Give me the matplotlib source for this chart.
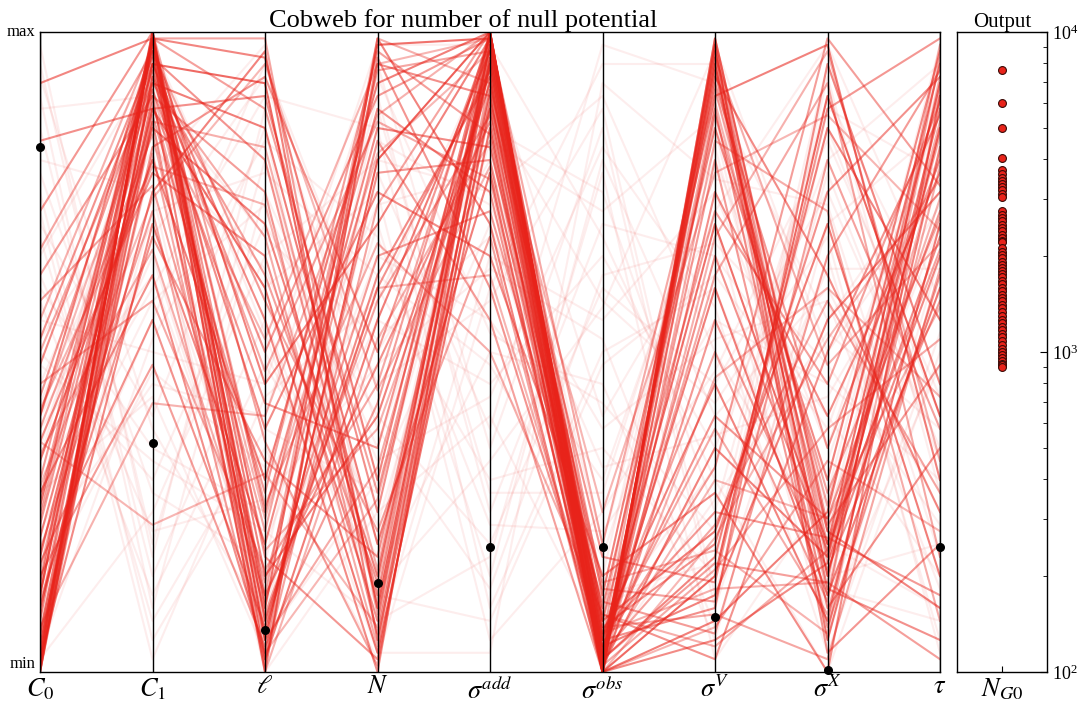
import numpy as np
import matplotlib
matplotlib.use("Agg")
import matplotlib.pyplot as plt

# ---------------- data ----------------
param_labels = [r"$C_0$", r"$C_1$", r"$\ell$", r"$N$", r"$\sigma^{add}$",
                r"$\sigma^{obs}$", r"$\sigma^{V}$", r"$\sigma^{X}$", r"$\tau$"]

# highlighted samples (normalised 0=min, 1=max)
c0 = [0.02, 0.12, 0.00, 0.18, 0.26, 0.06, 0.33, 0.01, 0.10, 0.40,
      0.04, 0.21, 0.92, 0.02, 0.14, 0.48, 0.00, 0.28, 0.83, 0.08,
      0.36, 0.03, 0.17, 0.52, 0.01, 0.23, 0.72, 0.05, 0.30, 0.11,
      0.43, 0.02, 0.62, 0.15, 0.00, 0.27, 0.58, 0.04, 0.38, 0.09,
      0.19, 0.66, 0.01, 0.13, 0.45, 0.24, 0.06, 0.50, 0.02, 0.34,
      0.16, 0.55, 0.07, 0.00, 0.41, 0.25, 0.03, 0.36, 0.12, 0.29,
      0.40]
c1 = [0.99, 0.95, 1.00, 0.88, 0.97, 0.92, 0.80, 0.99, 0.75, 0.98,
      0.90, 0.85, 0.99, 0.70, 1.00, 0.95, 0.93, 0.62, 0.88, 0.98,
      0.78, 0.99, 0.55, 0.96, 0.86, 0.91, 1.00, 0.82, 0.97, 0.68,
      0.94, 0.99, 0.90, 0.48, 0.87, 0.99, 0.76, 0.93, 0.84, 1.00,
      0.72, 0.97, 0.89, 0.99, 0.58, 0.95, 0.81, 0.92, 0.99, 0.66,
      0.86, 0.98, 0.42, 0.94, 0.79, 0.99, 0.88, 0.23, 0.96, 0.74,
      0.91]
ell = [0.05, 0.92, 0.10, 0.60, 0.02, 0.85, 0.30, 0.15, 0.97, 0.45,
       0.00, 0.70, 0.96, 0.20, 0.08, 0.55, 0.38, 0.03, 0.90, 0.12,
       0.65, 0.25, 0.07, 0.80, 0.01, 0.42, 0.18, 0.93, 0.06, 0.33,
       0.50, 0.11, 0.75, 0.04, 0.28, 0.88, 0.14, 0.62, 0.09, 0.36,
       0.02, 0.58, 0.22, 0.99, 0.16, 0.47, 0.05, 0.68, 0.26, 0.12,
       0.82, 0.00, 0.40, 0.19, 0.73, 0.08, 0.52, 0.31, 0.03, 0.95,
       0.24]
n_par = [0.80, 0.10, 0.98, 0.03, 0.55, 0.20, 0.92, 0.40, 0.05, 0.70,
         0.99, 0.15, 0.30, 0.85, 0.62, 0.00, 0.75, 0.95, 0.25, 0.48,
         0.08, 0.88, 0.60, 0.12, 0.96, 0.35, 0.02, 0.50, 0.78, 0.18,
         0.90, 0.65, 0.06, 0.42, 0.97, 0.28, 0.83, 0.14, 0.58, 0.01,
         0.73, 0.22, 0.94, 0.09, 0.45, 0.86, 0.32, 0.04, 0.67, 0.99,
         0.16, 0.52, 0.87, 0.38, 0.11, 0.60, 0.95, 0.07, 0.27, 0.44,
         0.81]
s_add = [1.00, 0.95, 0.99, 0.85, 0.97, 0.78, 1.00, 0.92, 0.88, 0.99,
         0.70, 0.96, 1.00, 0.82, 0.93, 0.99, 0.65, 0.90, 1.00, 0.86,
         0.98, 0.75, 0.94, 1.00, 0.60, 0.97, 0.89, 0.99, 0.80, 0.95,
         0.99, 0.72, 0.91, 1.00, 0.84, 0.96, 0.55, 0.98, 0.87, 0.93,
         1.00, 0.68, 0.97, 0.90, 0.99, 0.77, 0.94, 1.00, 0.50, 0.92,
         0.98, 0.83, 1.00, 0.88, 0.96, 0.62, 0.99, 0.91, 0.95, 0.79,
         0.97]
s_obs = [0.02, 0.00, 0.05, 0.01, 0.08, 0.00, 0.03, 0.12, 0.01, 0.04,
         0.00, 0.06, 0.02, 0.10, 0.00, 0.03, 0.15, 0.01, 0.05, 0.00,
         0.07, 0.02, 0.00, 0.09, 0.04, 0.01, 0.18, 0.00, 0.03, 0.06,
         0.01, 0.11, 0.00, 0.04, 0.02, 0.08, 0.00, 0.13, 0.05, 0.01,
         0.03, 0.00, 0.07, 0.02, 0.20, 0.01, 0.04, 0.00, 0.09, 0.02,
         0.06, 0.00, 0.03, 0.14, 0.01, 0.05, 0.00, 0.25, 0.02, 0.08,
         0.00]
s_v = [0.95, 0.15, 0.70, 0.98, 0.22, 0.08, 0.60, 0.90, 0.35, 0.12,
       0.99, 0.45, 0.18, 0.85, 0.05, 0.93, 0.28, 0.75, 0.10, 0.97,
       0.20, 0.65, 0.88, 0.02, 0.40, 0.96, 0.14, 0.55, 0.92, 0.25,
       0.80, 0.06, 0.99, 0.32, 0.17, 0.72, 0.94, 0.11, 0.50, 0.87,
       0.23, 0.98, 0.09, 0.62, 0.91, 0.16, 0.38, 0.83, 0.04, 0.96,
       0.13, 0.68, 0.89, 0.19, 0.46, 0.97, 0.07, 0.78, 0.30, 0.94,
       0.21]
s_x = [0.15, 0.90, 0.20, 0.05, 0.70, 0.25, 0.12, 0.98, 0.18, 0.55,
       0.22, 0.08, 0.85, 0.30, 0.17, 0.62, 0.00, 0.40, 0.95, 0.13,
       0.75, 0.19, 0.10, 0.50, 0.24, 0.03, 0.88, 0.16, 0.35, 0.21,
       0.07, 0.65, 0.23, 0.99, 0.14, 0.45, 0.20, 0.80, 0.11, 0.28,
       0.58, 0.18, 0.02, 0.92, 0.26, 0.38, 0.09, 0.72, 0.19, 0.48,
       0.14, 0.97, 0.22, 0.06, 0.60, 0.17, 0.33, 0.87, 0.24, 0.12,
       0.52]
tau = [0.85, 0.40, 0.92, 0.70, 0.15, 0.95, 0.60, 0.30, 0.88, 0.75,
       0.10, 0.82, 0.55, 0.97, 0.65, 0.25, 0.90, 0.78, 0.45, 0.05,
       0.93, 0.68, 0.35, 0.87, 0.72, 0.20, 0.99, 0.58, 0.80, 0.12,
       0.62, 0.94, 0.48, 0.76, 0.02, 0.89, 0.66, 0.38, 0.96, 0.71,
       0.28, 0.84, 0.63, 0.18, 0.91, 0.52, 0.79, 0.08, 0.86, 0.67,
       0.98, 0.33, 0.74, 0.90, 0.43, 0.81, 0.22, 0.69, 0.57, 0.93,
       0.77]
n_g0 = [7600, 6000, 5000, 4050,
        3700, 3600, 3500, 3420, 3350, 3280, 3200, 3120, 3050,
        2750, 2680, 2620, 2560, 2500, 2440, 2380, 2320, 2270, 2230, 2200,
        2110, 2060, 2010, 1960, 1910, 1870, 1830, 1790, 1750, 1710,
        1670, 1630, 1590, 1550, 1510, 1480, 1440, 1400, 1370, 1330,
        1300, 1260, 1230, 1200, 1170, 1140, 1110, 1080, 1050, 1020,
        1000, 980, 960, 940, 920, 910, 900]

# remaining (faint) samples
f_c0 = [0.50, 0.10, 0.85, 0.30, 0.65, 0.20, 0.95, 0.40, 0.05, 0.75,
        0.15, 0.60, 0.35, 0.90, 0.25, 0.70, 0.45, 0.02, 0.80, 0.55,
        0.12, 0.98, 0.38, 0.68, 0.08, 0.48, 0.88, 0.28, 0.58, 0.18,
        0.78, 0.42, 0.03, 0.62, 0.33, 0.93, 0.22, 0.72, 0.52, 0.13]
f_c1 = [0.30, 0.80, 0.15, 0.60, 0.95, 0.45, 0.20, 0.70, 0.88, 0.05,
        0.55, 0.35, 0.92, 0.10, 0.65, 0.40, 0.85, 0.25, 0.75, 0.50,
        0.98, 0.18, 0.62, 0.08, 0.72, 0.33, 0.90, 0.43, 0.12, 0.68,
        0.28, 0.82, 0.52, 0.22, 0.97, 0.38, 0.58, 0.02, 0.78, 0.47]
f_ell = [0.70, 0.20, 0.55, 0.90, 0.05, 0.40, 0.80, 0.15, 0.60, 0.35,
         0.95, 0.25, 0.50, 0.75, 0.10, 0.85, 0.30, 0.65, 0.00, 0.45,
         0.58, 0.88, 0.12, 0.38, 0.78, 0.22, 0.68, 0.03, 0.48, 0.93,
         0.17, 0.63, 0.83, 0.27, 0.53, 0.08, 0.73, 0.43, 0.98, 0.32]
f_n = [0.40, 0.65, 0.10, 0.85, 0.30, 0.95, 0.20, 0.55, 0.75, 0.02,
       0.50, 0.90, 0.15, 0.35, 0.70, 0.05, 0.60, 0.80, 0.25, 0.98,
       0.12, 0.45, 0.88, 0.28, 0.62, 0.08, 0.52, 0.78, 0.18, 0.38,
       0.93, 0.23, 0.68, 0.48, 0.03, 0.83, 0.33, 0.58, 0.13, 0.73]
f_s_add = [0.20, 0.55, 0.85, 0.10, 0.70, 0.35, 0.95, 0.45, 0.05, 0.60,
           0.80, 0.25, 0.50, 0.90, 0.15, 0.65, 0.30, 0.75, 0.40, 0.98,
           0.08, 0.58, 0.28, 0.88, 0.48, 0.18, 0.68, 0.38, 0.93, 0.13,
           0.53, 0.83, 0.23, 0.63, 0.03, 0.73, 0.43, 0.97, 0.33, 0.78]
f_s_obs = [0.60, 0.30, 0.75, 0.50, 0.15, 0.85, 0.40, 0.65, 0.25, 0.95,
           0.10, 0.70, 0.45, 0.20, 0.80, 0.55, 0.35, 0.90, 0.05, 0.68,
           0.48, 0.88, 0.28, 0.58, 0.18, 0.78, 0.38, 0.98, 0.08, 0.62,
           0.42, 0.72, 0.22, 0.52, 0.92, 0.32, 0.82, 0.12, 0.57, 0.02]
f_s_v = [0.45, 0.80, 0.25, 0.60, 0.90, 0.10, 0.70, 0.35, 0.55, 0.95,
         0.20, 0.65, 0.05, 0.85, 0.40, 0.75, 0.15, 0.50, 0.98, 0.30,
         0.62, 0.12, 0.82, 0.42, 0.72, 0.02, 0.52, 0.92, 0.32, 0.67,
         0.22, 0.87, 0.47, 0.07, 0.77, 0.37, 0.57, 0.17, 0.97, 0.27]
f_s_x = [0.75, 0.35, 0.90, 0.15, 0.55, 0.65, 0.05, 0.80, 0.45, 0.25,
         0.95, 0.40, 0.70, 0.10, 0.60, 0.30, 0.85, 0.20, 0.50, 0.00,
         0.38, 0.78, 0.18, 0.68, 0.98, 0.28, 0.58, 0.08, 0.88, 0.48,
         0.63, 0.13, 0.83, 0.33, 0.73, 0.43, 0.03, 0.93, 0.23, 0.53]
f_tau = [0.35, 0.90, 0.55, 0.20, 0.80, 0.05, 0.65, 0.95, 0.30, 0.70,
         0.45, 0.15, 0.85, 0.60, 0.25, 0.98, 0.40, 0.10, 0.75, 0.50,
         0.88, 0.33, 0.68, 0.03, 0.58, 0.93, 0.13, 0.48, 0.78, 0.23,
         0.63, 0.08, 0.43, 0.83, 0.18, 0.73, 0.53, 0.28, 0.90, 0.38]

# nominal point (black dots)
nominal = [0.82, 0.358, 0.066, 0.139, 0.195, 0.195, 0.086, 0.003, 0.195]

# ---------------- plot ----------------
plt.rcParams['mathtext.fontset'] = 'stix'
plt.rcParams['font.family'] = ['Liberation Serif', 'DejaVu Serif']

fig = plt.figure(figsize=(10.78, 7.05), dpi=100)
ax = fig.add_axes([40/1078, 33/705, 900/1078, 640/705])
ax2 = fig.add_axes([957/1078, 33/705, 90/1078, 640/705])

line_col = '#e8231a'
xs = np.arange(len(param_labels))

faint = np.array([f_c0, f_c1, f_ell, f_n, f_s_add, f_s_obs, f_s_v, f_s_x, f_tau])
for j in range(faint.shape[1]):
    ax.plot(xs, faint[:, j], color=line_col, alpha=0.08, lw=1.5, zorder=1)

strong = np.array([c0, c1, ell, n_par, s_add, s_obs, s_v, s_x, tau])
out = np.array(n_g0, dtype=float)
lo, hi = np.log(min(out)), np.log(max(out))
order = np.argsort(out)
for j in order:
    a = 0.32 + 0.4 * (np.log(out[j]) - lo) / (hi - lo)
    ax.plot(xs, strong[:, j], color=line_col, alpha=a, lw=1.5, zorder=2)

for x in xs:
    ax.axvline(x, color='black', lw=1.0, zorder=3)

ax.scatter(xs, nominal, s=30, color='black', zorder=5, clip_on=False)

ax.set_xlim(0, len(param_labels) - 1)
ax.set_ylim(0, 1)
ax.set_xticks(xs)
ax.set_xticklabels(param_labels, fontsize=19)
ax.tick_params(axis='x', length=0, pad=3)
ax.set_yticks([])
ax.text(-0.005, 1.0, 'max', transform=ax.transAxes, ha='right', va='center',
        fontsize=12)
ax.text(-0.005, 0.0, 'min', transform=ax.transAxes, ha='right', va='bottom',
        fontsize=12)
ax.set_title('Cobweb for number of null potential', fontsize=19, pad=2, x=0.47)
for s in ax.spines.values():
    s.set_color('black')
    s.set_linewidth(1.0)

# output panel
ax2.scatter(np.zeros(len(out)), out, s=32, color='#e8231a',
            edgecolor='#3a0a06', linewidth=0.8, zorder=3)
ax2.set_yscale('log')
ax2.set_ylim(1e2, 1e4)
ax2.set_xlim(-1, 1)
ax2.yaxis.tick_right()
ax2.tick_params(axis='y', which='both', direction='in', labelsize=13)
ax2.tick_params(axis='y', which='major', length=5)
ax2.tick_params(axis='y', which='minor', length=3)
ax2.set_xticks([0])
ax2.set_xticklabels([r"$N_{G0}$"], fontsize=19)
ax2.tick_params(axis='x', direction='in', length=4, pad=3)
ax2.set_title('Output', fontsize=15, pad=2)
for s in ax2.spines.values():
    s.set_color('black')
    s.set_linewidth(1.0)

fig.savefig('out.png', dpi=100)
